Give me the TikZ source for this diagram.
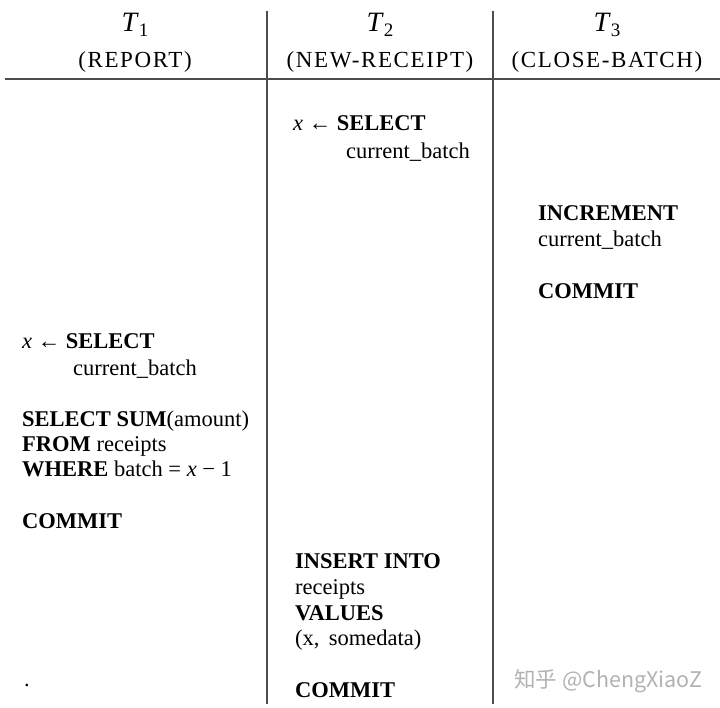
\documentclass[tikz,border=0pt]{standalone}
\usepackage{fontspec}
\setmainfont{Liberation Serif}
\newfontfamily\cjk{Noto Sans CJK SC}
\begin{document}
\begin{tikzpicture}[x=1pt,y=-1pt,
  txt/.style={anchor=base west,inner sep=0pt,font=\fontsize{22.5}{26}\selectfont},
  head/.style={anchor=base,inner sep=0pt,font=\fontsize{28}{32}\selectfont},
  sub/.style={anchor=base,inner sep=0pt,font=\fontsize{23}{26}\selectfont\addfontfeature{LetterSpace=7}},
  rule/.style={line width=2pt,draw=black!70}]
\useasboundingbox (0,0) rectangle (720,708);
% headers
\node[head] (h1) at (135,32) {\textit{T}\raisebox{-5pt}{\fontsize{19}{19}\selectfont 1}};
\node[head] (h2) at (380,32) {\textit{T}\raisebox{-5pt}{\fontsize{19}{19}\selectfont 2}};
\node[head] (h3) at (607,32) {\textit{T}\raisebox{-5pt}{\fontsize{19}{19}\selectfont 3}};
\node[sub] (s1) at (135,68) {(REPORT)};
\node[sub] (s2) at (380,68) {(NEW-RECEIPT)};
\node[sub] (s3) at (607,68) {(CLOSE-BATCH)};
% rules
\coordinate (hl) at (5,79);
\coordinate (hr) at (720,79);
\coordinate (v1t) at (267,11);
\coordinate (v1b) at (267,704);
\coordinate (v2t) at (493,11);
\coordinate (v2b) at (493,704);
\draw[rule] (hl) -- (hr);
\draw[rule] (v1t) -- (v1b);
\draw[rule] (v2t) -- (v2b);
% T2 top
\node[txt] (a1) at (293,131) {\textit{x} ← \textbf{SELECT}};
\node[txt] (a2) at (346,159) {current\_batch};
% T3
\node[txt] (b1) at (538,221) {\textbf{INCREMENT}};
\node[txt] (b2) at (538,247) {current\_batch};
\node[txt] (b3) at (538,299) {\textbf{COMMIT}};
% T1
\node[txt] (c1) at (22,349) {\textit{x} ← \textbf{SELECT}};
\node[txt] (c2) at (73,375) {current\_batch};
\node[txt] (c3) at (22,426) {\textbf{SELECT SUM}(amount)};
\node[txt] (c4) at (22,451) {\textbf{FROM} receipts};
\node[txt] (c5) at (22,476) {\textbf{WHERE} batch = \textit{x} − 1};
\node[txt] (c6) at (22,528) {\textbf{COMMIT}};
\node[txt] (dot) at (24,686) {.};
% T2 bottom
\node[txt] (d1) at (295,568) {\textbf{INSERT INTO}};
\node[txt] (d2) at (295,594) {receipts};
\node[txt] (d3) at (295,620) {\textbf{VALUES}};
\node[txt] (d4) at (295,645) {(x,\, somedata)};
\node[txt] (d5) at (295,697) {\textbf{COMMIT}};
% watermark
\node[anchor=base west,inner sep=0pt,text=black!30,font=\cjk\fontsize{21.5}{24}\selectfont] (wm) at (514,687) {知乎 @ChengXiaoZ};
\end{tikzpicture}
\end{document}
